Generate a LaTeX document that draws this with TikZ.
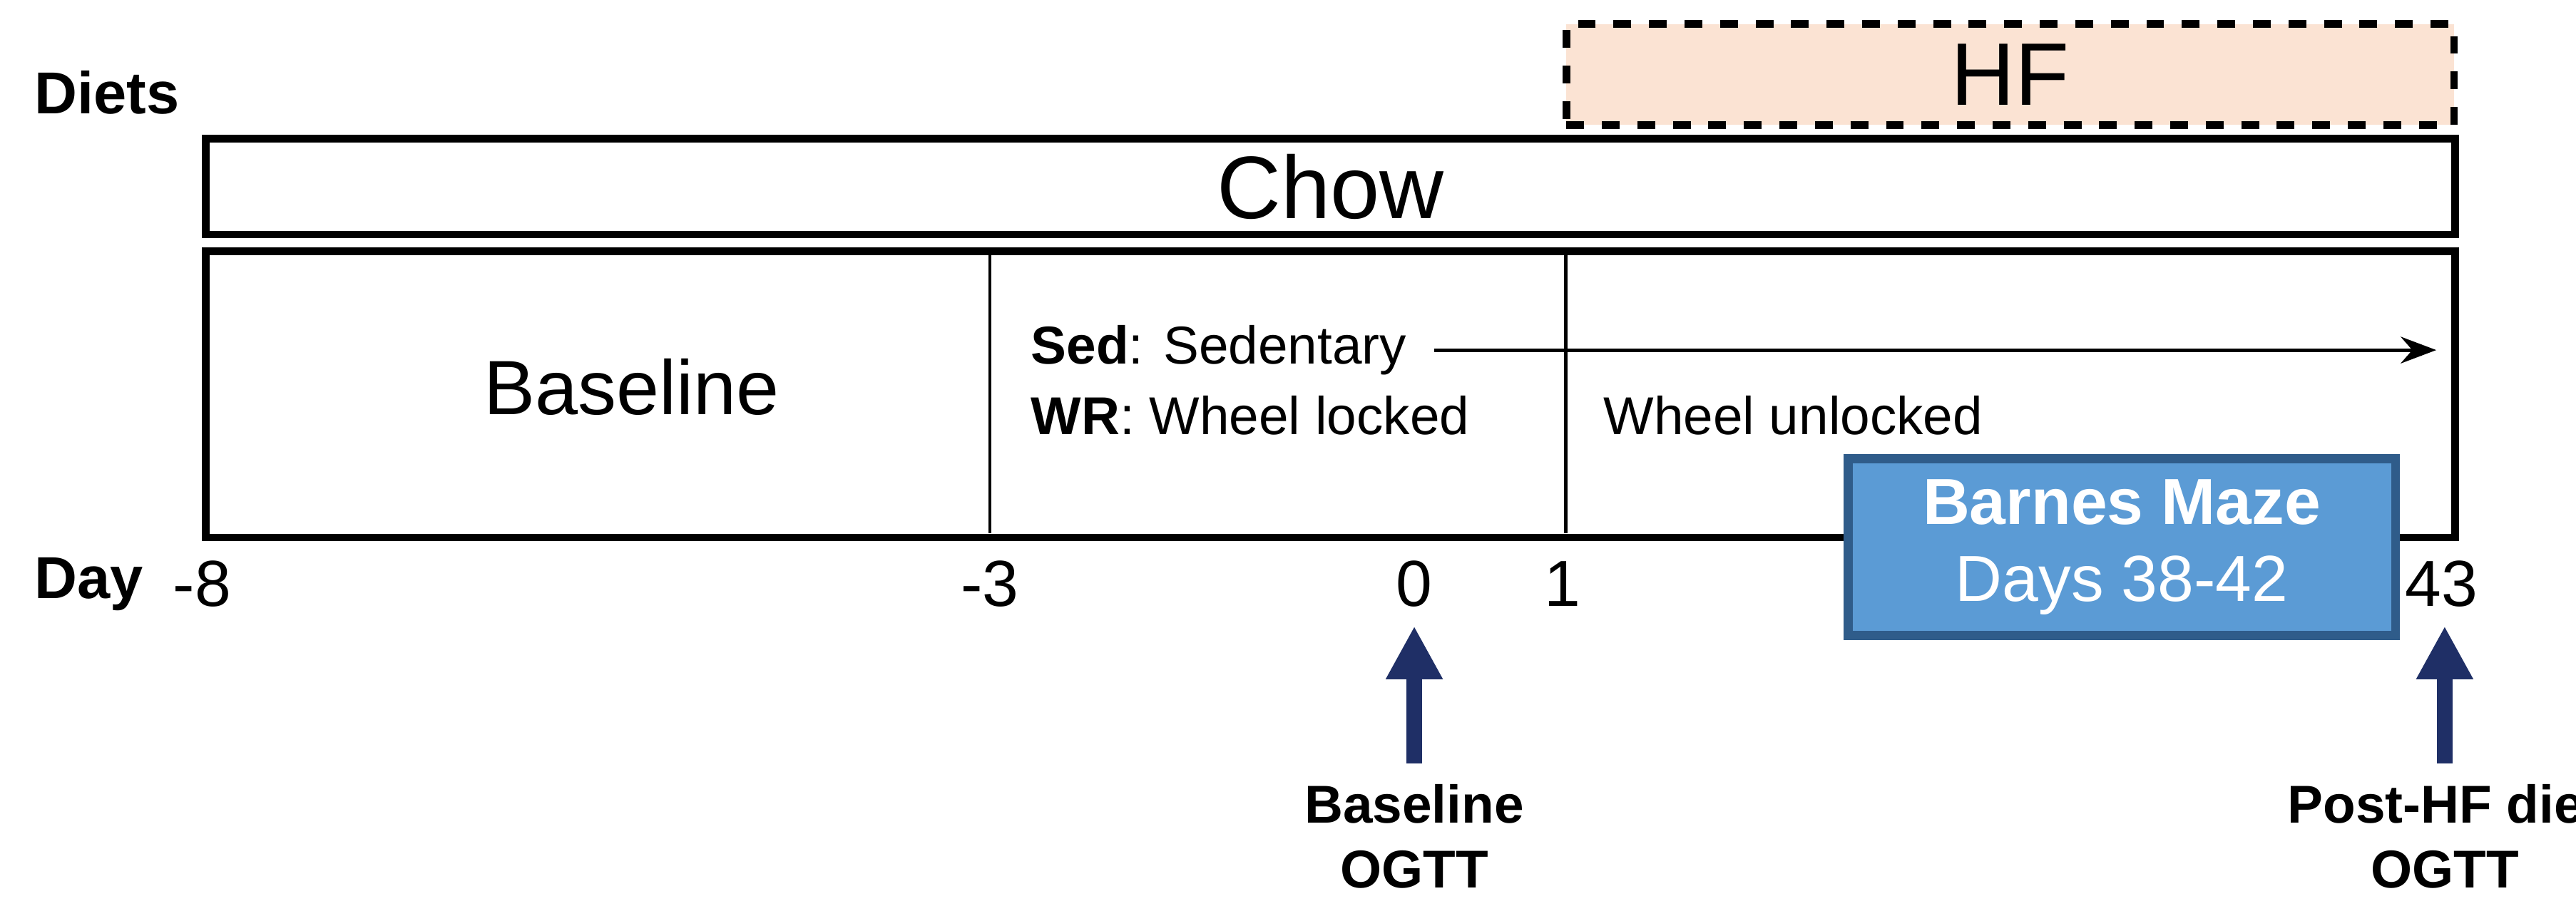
\documentclass[tikz,border=0pt]{standalone}
\usepackage{fontspec}
\setmainfont{Liberation Sans}
\usetikzlibrary{arrows.meta}
\definecolor{peach}{HTML}{FBE3D3}
\definecolor{bmfill}{HTML}{5B9BD5}
\definecolor{bmdraw}{HTML}{2F5C8A}
\definecolor{navy}{HTML}{1F2F66}
\begin{document}
\begin{tikzpicture}[x=0.01cm,y=-0.01cm,
  box/.style={draw,line width=1.3pt,inner sep=0},
  lbl/.style={font=\fontsize{11}{13}\selectfont},
  sm/.style={font=\fontsize{9}{11}\selectfont,anchor=west},
  up/.style={draw=navy,line width=2.6pt,-{Triangle[length=9pt,width=9pt]}},
  bot/.style={font=\fontsize{9}{11}\selectfont\bfseries,align=center}]
\useasboundingbox (0,0) rectangle (1530,544);
\node[box,dashed,fill=peach,minimum width=5.27cm,minimum height=0.6cm,anchor=north west,font=\fontsize{15}{17}\selectfont] (hf) at (928,12) {HF};
\node[font=\fontsize{10}{12}\selectfont\bfseries,anchor=west] (diets) at (8,55) {Diets};
\node[box,minimum width=13.35cm,minimum height=0.57cm,anchor=north west,font=\fontsize{15}{17}\selectfont] (chow) at (120,80) {Chow};
\node[box,minimum width=13.35cm,minimum height=1.7cm,anchor=north west] (main) at (120,147) {};
\coordinate (v1t) at (588,147); \coordinate (v1b) at (588,317);
\coordinate (v2t) at (930,147); \coordinate (v2b) at (930,317);
\draw[line width=0.5pt] (v1t) -- (v1b);
\draw[line width=0.5pt] (v2t) -- (v2b);
\node[font=\fontsize{13}{15}\selectfont] (bl) at (375,230) {Baseline};
\node[sm] (sed) at (600,208) {\textbf{Sed}: Sedentary};
\coordinate (sedst) at (852,208);
\coordinate (sedend) at (1447,208);
\draw[line width=0.6pt,-{Stealth[length=6pt]}] (sedst) -- (sedend);
\node[sm] (wr) at (600,247) {\textbf{WR}: Wheel locked};
\node[sm] (wu) at (940,247) {Wheel unlocked};
\node[draw=bmdraw,line width=1.5pt,fill=bmfill,text=white,minimum width=3.25cm,minimum height=1.05cm,anchor=north west,align=center,inner sep=0] (bm) at (1095,270)
  {\fontsize{11}{14}\selectfont\bfseries Barnes Maze\\[1pt]\fontsize{11}{14}\selectfont Days 38-42};
\node[font=\fontsize{10}{12}\selectfont\bfseries,anchor=west] (day) at (8,347) {Day};
\node[lbl] (m8) at (120,347) {-8};
\node[lbl] (m3) at (588,347) {-3};
\node[lbl] (d0) at (840,347) {0};
\node[lbl] (d1) at (928,347) {1};
\node[lbl] (d43) at (1450,347) {43};
\node[bot] (ob) at (840,497) {Baseline\\OGTT};
\node[bot] (op) at (1452,497) {Post-HF diet\\OGTT};
\coordinate (a1) at (840,372); \coordinate (a2) at (1452,372);
\draw[up] (ob.north) -- (a1);
\draw[up] (op.north) -- (a2);
\end{tikzpicture}
\end{document}
